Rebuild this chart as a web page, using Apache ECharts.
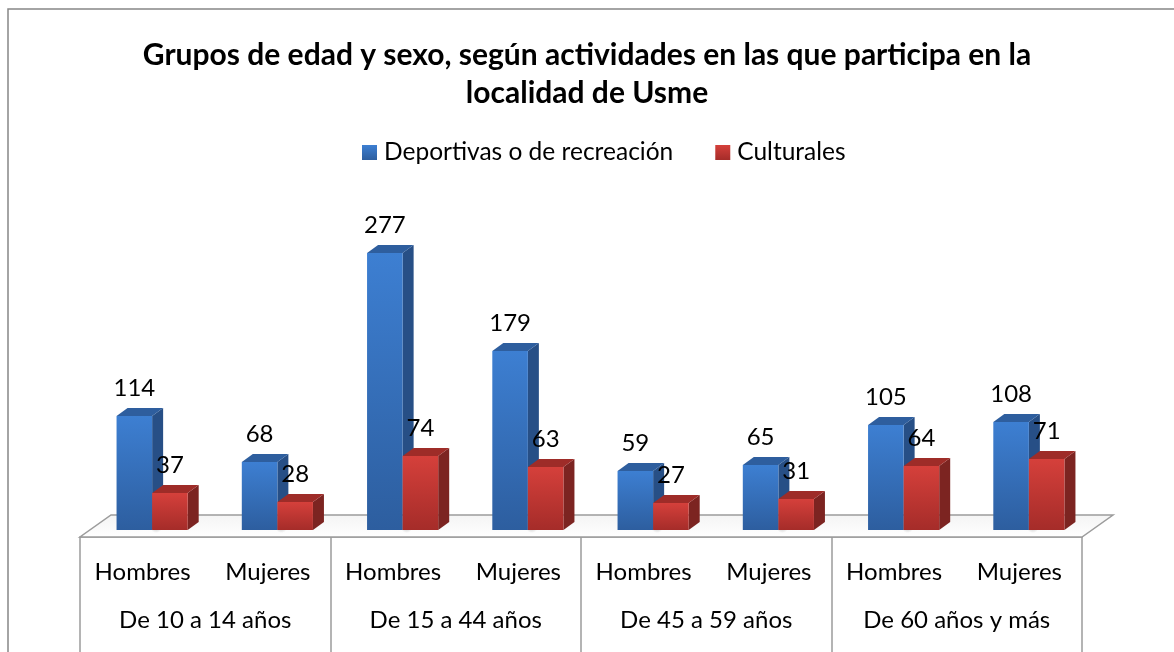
<!DOCTYPE html>
<html>
<head>
<meta charset="utf-8">
<script src="https://cdn.jsdelivr.net/npm/echarts@6/dist/echarts.min.js"></script>
<style>
  html, body { margin: 0; padding: 0; background: #fff; }
  #chart { width: 1174px; height: 652px; }
</style>
</head>
<body>
<div id="chart"></div>
<script>
// datos
var categorias = ['Hombres', 'Mujeres', 'Hombres', 'Mujeres', 'Hombres', 'Mujeres', 'Hombres', 'Mujeres'];
var grupos = ['De 10 a 14 años', 'De 15 a 44 años', 'De 45 a 59 años', 'De 60 años y más'];
var deportivas = [114, 68, 277, 179, 59, 65, 105, 108];
var culturales = [37, 28, 74, 63, 27, 31, 64, 71];
var nombres = ['Deportivas o de recreación', 'Culturales'];

var FONT = 'Lato, "Open Sans", sans-serif';
var DX = 11, DY = 8;      // profundidad de la barra
var SHIFT = 9.5;          // barras un poco hacia dentro del piso

var colores = [
  { top: '#3d7fd2', bottom: '#2d5e9f', side: '#274f86', cap: '#2e5e9e' },
  { top: '#d5403b', bottom: '#a52c29', side: '#7c2421', cap: '#9e2c28' }
];

function grad(c) {
  return new echarts.graphic.LinearGradient(0, 0, 0, 1, [
    { offset: 0, color: c.top }, { offset: 1, color: c.bottom }
  ]);
}

function barra(k) {
  return function (params, api) {
    var idx = api.value(0), val = api.value(1);
    var base = api.coord([idx, 0]);
    var tope = api.coord([idx, val]);
    var band = api.size([1, 0])[0];
    var w = band * 0.284;
    var x0 = base[0] + SHIFT + (k === 0 ? -w : 0);
    var x1 = x0 + w;
    var y0 = base[1], y1 = tope[1];
    var c = colores[k];
    var hijos = [];
    if (k === 0) {
      // sombra en el piso
      hijos.push({
        type: 'ellipse',
        shape: { cx: base[0] + SHIFT + 4, cy: y0 - 3, rx: w * 1.45, ry: 6 },
        style: { fill: new echarts.graphic.RadialGradient(0.5, 0.5, 0.5, [
          { offset: 0, color: 'rgba(0,0,0,0.22)' }, { offset: 1, color: 'rgba(0,0,0,0)' }
        ]) },
        silent: true
      });
    }
    hijos.push({
      type: 'polygon',
      shape: { points: [[x1, y1], [x1 + DX, y1 - DY], [x1 + DX, y0 - DY], [x1, y0]] },
      style: { fill: c.side }
    });
    hijos.push({
      type: 'polygon',
      shape: { points: [[x0, y1], [x0 + DX, y1 - DY], [x1 + DX, y1 - DY], [x1, y1]] },
      style: { fill: c.cap }
    });
    hijos.push({
      type: 'rect',
      shape: { x: x0, y: y1, width: w, height: y0 - y1 },
      style: { fill: grad(c) }
    });
    hijos.push({
      type: 'text',
      style: {
        text: String(val), x: (x0 + x1) / 2, y: y1 - 28,
        align: 'center', verticalAlign: 'middle',
        font: '24px ' + FONT, fill: '#000'
      },
      z2: 10
    });
    return { type: 'group', children: hijos };
  };
}

function piso(params, api) {
  var cs = params.coordSys;
  var yb = cs.y + cs.height;
  var xl = cs.x, xr = cs.x + cs.width;
  var front = yb + 7, back = yb - 15;
  return {
    type: 'polygon',
    shape: { points: [[xl, front], [xr, front], [xr + 31, back], [xl + 31, back]] },
    style: {
      fill: new echarts.graphic.LinearGradient(0, 0, 0, 1, [
        { offset: 0, color: '#f4f4f4' }, { offset: 1, color: '#ffffff' }
      ]),
      stroke: '#9c9c9c', lineWidth: 1.5
    },
    silent: true
  };
}

var chart = echarts.init(document.getElementById('chart'));

var option = {
  animation: false,
  title: {
    text: 'Grupos de edad y sexo, según actividades en las que participa en la\nlocalidad de Usme',
    left: 'center',
    top: 31,
    textStyle: { fontFamily: FONT, fontSize: 30, fontWeight: 'bold', lineHeight: 38, color: '#000' }
  },
  legend: {
    top: 135,
    left: 357,
    icon: 'rect',
    itemWidth: 15,
    itemHeight: 15,
    itemGap: 42,
    data: nombres,
    textStyle: { fontFamily: FONT, fontSize: 24.5, color: '#000', padding: [0, 0, 0, 2] }
  },
  grid: { left: 80, right: 92, top: 230, bottom: 122 },
  xAxis: [
    {
      type: 'category',
      data: categorias,
      axisLine: { show: false },
      axisTick: { show: false },
      axisLabel: { margin: 30, fontFamily: FONT, fontSize: 24, color: '#000', interval: 0 }
    },
    {
      type: 'category',
      data: grupos,
      position: 'bottom',
      offset: 7,
      axisLine: { show: true, lineStyle: { color: '#9c9c9c', width: 1.5 } },
      axisTick: { show: true, length: 130, lineStyle: { color: '#9c9c9c', width: 1.5 } },
      axisLabel: { margin: 71, fontFamily: FONT, fontSize: 24, color: '#000', interval: 0 }
    }
  ],
  yAxis: { type: 'value', min: 0, max: 300, show: false, splitLine: { show: false } },
  series: [
    {
      type: 'custom', name: 'piso', renderItem: piso, data: [[0, 0]], z: 1, silent: true
    },
    {
      type: 'custom', name: nombres[0], renderItem: barra(0), z: 2,
      itemStyle: { color: grad(colores[0]) },
      encode: { x: 0, y: 1 },
      data: deportivas.map(function (v, i) { return [i, v]; })
    },
    {
      type: 'custom', name: nombres[1], renderItem: barra(1), z: 3,
      itemStyle: { color: grad(colores[1]) },
      encode: { x: 0, y: 1 },
      data: culturales.map(function (v, i) { return [i, v]; })
    }
  ],
  graphic: [
    { type: 'polyline', shape: { points: [[8, 652], [8, 9], [1174, 9]] },
      style: { stroke: '#878787', lineWidth: 1.5, fill: null }, silent: true }
  ]
};

chart.setOption(option);
</script>
</body>
</html>
